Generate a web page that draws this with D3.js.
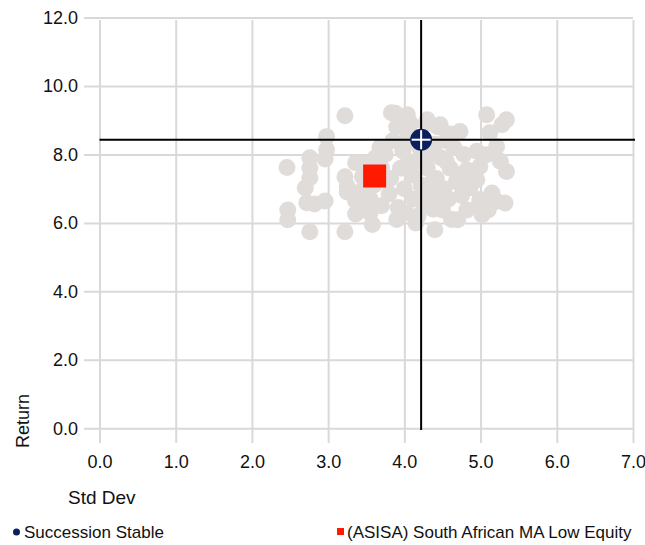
<!DOCTYPE html>
<html><head><meta charset="utf-8">
<script src="https://cdn.jsdelivr.net/npm/d3@7"></script>
<style>body{margin:0;background:#fff}svg{display:block;font-family:"Liberation Sans",Arial,sans-serif}</style>
</head><body><svg id="c" width="645" height="545"></svg>
<script>
const xTicks = [0,1,2,3,4,5,6,7];
const yTicks = [0,2,4,6,8,10,12];
const fundName = "Succession Stable";
const fundStdDev = 4.22, fundReturn = 8.43;
const catName = "(ASISA) South African MA Low Equity";
const catStdDev = 3.61, catReturn = 7.37;
const peerStdDev = [2.46,2.47,2.47,2.70,2.76,2.76,2.76,2.72,2.82,2.76,2.96,2.98,2.98,2.96,3.22,3.22,3.25,3.22,3.36,3.36,3.36,3.40,3.45,3.50,3.55,3.58,3.55,3.62,3.70,3.75,3.80,3.82,3.85,3.88,3.90,3.92,3.95,3.98,4.00,4.02,4.05,4.08,4.10,4.12,4.15,4.18,4.20,4.22,4.25,4.28,4.30,4.32,4.35,4.38,4.40,4.42,4.45,4.47,4.48,4.50,4.52,4.55,4.58,4.60,4.62,4.65,4.68,4.70,4.73,4.73,4.75,4.78,4.82,4.82,4.82,4.86,4.95,4.95,4.99,4.99,4.97,5.02,5.08,5.08,5.10,5.12,5.15,5.21,5.21,5.26,5.28,5.32,5.34,5.34,3.60,3.70,3.90,4.05,4.15,4.35,4.45,4.60,3.68,4.00,4.55,3.25,4.40,3.45,3.83,4.04,4.30,4.43];
const peerReturn = [7.62,6.38,6.09,7.02,7.90,7.61,7.32,6.59,6.55,5.74,6.64,8.52,8.14,7.87,9.13,7.35,7.06,5.74,7.76,6.64,6.26,6.45,6.95,7.75,6.30,5.95,6.70,7.90,6.50,8.00,6.85,7.30,8.40,9.20,8.80,6.45,7.60,8.10,7.00,6.30,8.60,8.90,7.40,6.70,7.80,6.20,8.20,7.10,6.55,8.90,7.60,6.90,8.00,6.40,5.80,7.30,8.80,8.87,7.90,6.38,7.00,8.40,6.70,7.60,6.10,8.20,7.20,6.09,8.67,7.41,6.80,8.00,7.55,7.21,6.38,7.03,8.09,7.26,7.65,6.68,6.48,6.24,9.16,7.99,6.38,8.63,6.87,8.23,6.63,7.80,8.87,6.58,9.01,7.50,7.10,7.60,6.10,7.75,6.00,7.15,6.60,8.60,8.20,8.30,7.80,6.90,8.30,7.35,9.22,9.16,9.01,8.82];

const svg = d3.select("#c");
const x = d3.scaleLinear().domain([0,7]).range([99.5,633]);
const y = d3.scaleLinear().domain([0,12]).range([428.3,17.5]);
const gridC = "#d9d9d9";
const txtC = "#111";

const gy = svg.append("g").attr("transform","translate(84,0)")
  .call(d3.axisLeft(y).tickValues(yTicks).tickFormat(d3.format(".1f")).tickSize(-(633-84)).tickPadding(6));
gy.select(".domain").remove();
gy.selectAll("line").attr("stroke",gridC).attr("stroke-width",2);
gy.selectAll("text").attr("font-size",18).attr("fill",txtC).attr("font-family","Liberation Sans, Arial, sans-serif");

const gx = svg.append("g").attr("transform","translate(0,443)")
  .call(d3.axisBottom(x).tickValues(xTicks).tickFormat(d3.format(".1f")).tickSize(-(443-20)).tickPadding(12));
gx.select(".domain").remove();
gx.selectAll("line").attr("stroke",gridC).attr("stroke-width",2);
gx.selectAll("text").attr("font-size",18).attr("fill",txtC).attr("font-family","Liberation Sans, Arial, sans-serif");

const peers = peerStdDev.map((d,i)=>({sd:d, r:peerReturn[i]}));
svg.append("g").selectAll("circle").data(peers).join("circle")
  .attr("cx",d=>x(d.sd)).attr("cy",d=>y(d.r)).attr("r",8.5).attr("fill","#e0dcda");

// crosshair lines
svg.append("line").attr("x1",x(0)).attr("x2",635).attr("y1",y(fundReturn)).attr("y2",y(fundReturn))
  .attr("stroke","#000").attr("stroke-width",2);
svg.append("line").attr("x1",x(fundStdDev)).attr("x2",x(fundStdDev)).attr("y1",20).attr("y2",430)
  .attr("stroke","#000").attr("stroke-width",2);

// category square
svg.append("rect").attr("x",x(catStdDev)-11.5).attr("y",y(catReturn)-11.5).attr("width",23).attr("height",23).attr("fill","#ff1a00");

// fund marker
const fx = x(fundStdDev), fy = y(fundReturn);
svg.append("circle").attr("cx",fx).attr("cy",fy).attr("r",11).attr("fill","#0b1f5e");
svg.append("line").attr("x1",fx-9.5).attr("x2",fx+9.5).attr("y1",fy).attr("y2",fy).attr("stroke","#fff").attr("stroke-width",2);
svg.append("line").attr("x1",fx).attr("x2",fx).attr("y1",fy-9.5).attr("y2",fy+9.5).attr("stroke","#fff").attr("stroke-width",2);

// axis titles
svg.append("text").attr("transform","translate(29,421) rotate(-90)").attr("text-anchor","middle")
  .attr("font-size",18).attr("fill",txtC).text("Return");
svg.append("text").attr("x",68).attr("y",504).attr("font-size",19).attr("fill",txtC).text("Std Dev");

// legend
svg.append("circle").attr("cx",16.5).attr("cy",532).attr("r",3.5).attr("fill","#0b1f5e");
svg.append("text").attr("x",24).attr("y",538).attr("font-size",17).attr("fill",txtC).text(fundName);
svg.append("rect").attr("x",337).attr("y",528).attr("width",7).attr("height",7).attr("fill","#ff1a00");
svg.append("text").attr("x",347).attr("y",538).attr("font-size",17).attr("fill",txtC).text(catName);
</script></body></html>
